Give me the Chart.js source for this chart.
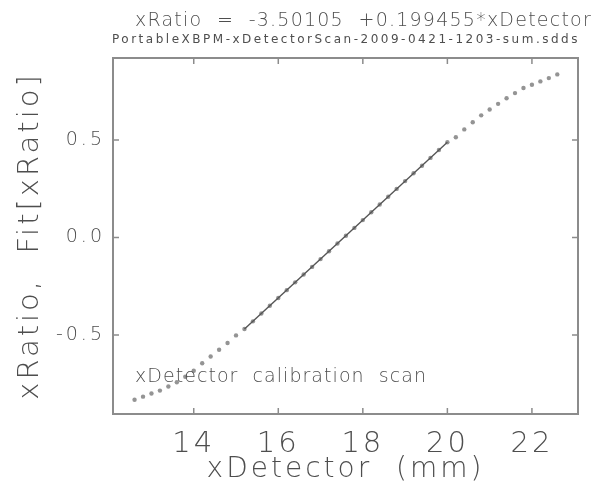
<!DOCTYPE html>
<html>
<head>
<meta charset="utf-8">
<script src="https://cdn.jsdelivr.net/npm/chart.js@4"></script>
<style>
  body { margin: 0; background: #fff; }
  canvas { display: block; }
</style>
</head>
<body>
<canvas id="scanChart" width="601" height="489"></canvas>
<script>
// scan data (mm, ratio)
const xDetector = [
  12.6, 12.8, 13.0, 13.2, 13.4, 13.6, 13.8, 14.0, 14.2, 14.4, 14.6, 14.8, 15.0,
  15.2, 15.4, 15.6, 15.8, 16.0, 16.2, 16.4, 16.6, 16.8, 17.0, 17.2, 17.4, 17.6,
  17.8, 18.0, 18.2, 18.4, 18.6, 18.8, 19.0, 19.2, 19.4, 19.6, 19.8, 20.0,
  20.2, 20.4, 20.6, 20.8, 21.0, 21.2, 21.4, 21.6, 21.8, 22.0, 22.2, 22.4, 22.6
];
const xRatio = [
  -0.832, -0.816, -0.800, -0.785, -0.764, -0.742, -0.714, -0.683, -0.645, -0.610, -0.576, -0.541, -0.502,
  -0.469, -0.430, -0.390, -0.350, -0.310, -0.270, -0.230, -0.190, -0.151, -0.111, -0.071, -0.031, 0.009,
  0.049, 0.089, 0.129, 0.169, 0.209, 0.249, 0.289, 0.329, 0.368, 0.408, 0.448, 0.488,
  0.514, 0.554, 0.591, 0.626, 0.656, 0.685, 0.714, 0.740, 0.766, 0.783, 0.800, 0.817, 0.836
];
// fitted line over the linear part
const fitX = [15.2, 20.0];
const fitY = [-0.469, 0.488];

const xTicks = [14, 16, 18, 20, 22];
const yTicks = [-0.5, 0.0, 0.5];

const titleText = "xRatio  =  -3.50105  +0.199455*xDetector";
const subtitleText = "PortableXBPM-xDetectorScan-2009-0421-1203-sum.sdds";
const noteText = "xDetector  calibration  scan";

const INK = "#4e4e4e";
const FRAME = "#8c8c8c";
const FONT = "'DejaVu Sans', sans-serif";
const WEIGHT = 200;

function spacedText(ctx, text, x, y, size, width, weight) {
  ctx.save();
  ctx.font = weight + " " + size + "px " + FONT;
  ctx.letterSpacing = "0px";
  const w = ctx.measureText(text).width;
  ctx.letterSpacing = ((width - w) / text.length) + "px";
  ctx.fillStyle = INK;
  ctx.textAlign = "left";
  ctx.textBaseline = "alphabetic";
  ctx.fillText(text, x, y);
  ctx.restore();
}

const sddsLook = {
  id: "sddsLook",
  beforeUpdate(chart) { chart.ctx.letterSpacing = "3px"; },
  beforeDraw(chart) { chart.ctx.letterSpacing = "3px"; },
  afterDatasetsDraw(chart) {
    const { ctx, chartArea: a } = chart;
    const xs = chart.scales.x, ys = chart.scales.y;
    ctx.save();
    ctx.strokeStyle = FRAME;
    ctx.lineWidth = 2;
    ctx.strokeRect(a.left, a.top, a.right - a.left, a.bottom - a.top);
    ctx.lineWidth = 1.5;
    ctx.beginPath();
    xTicks.forEach(v => {
      const px = xs.getPixelForValue(v);
      ctx.moveTo(px, a.bottom); ctx.lineTo(px, a.bottom - 6);
      ctx.moveTo(px, a.top); ctx.lineTo(px, a.top + 6);
    });
    yTicks.forEach(v => {
      const py = ys.getPixelForValue(v);
      ctx.moveTo(a.left, py); ctx.lineTo(a.left + 6, py);
      ctx.moveTo(a.right, py); ctx.lineTo(a.right - 6, py);
    });
    ctx.stroke();
    ctx.restore();

    spacedText(ctx, titleText, 135, 26, 19, 457, WEIGHT);
    spacedText(ctx, subtitleText, 112, 43, 12, 468, 400);
    spacedText(ctx, noteText, 135, 382, 19, 292, WEIGHT);
  }
};

new Chart(document.getElementById("scanChart").getContext("2d"), {
  type: "scatter",
  data: {
    datasets: [
      {
        label: "xRatio",
        data: xDetector.map((x, i) => ({ x, y: xRatio[i] })),
        pointStyle: "circle",
        pointRadius: 2.2,
        pointBackgroundColor: "#949494",
        pointBorderWidth: 0,
        showLine: false,
        order: 2
      },
      {
        label: "Fit[xRatio]",
        data: fitX.map((x, i) => ({ x, y: fitY[i] })),
        showLine: true,
        borderColor: "#555555",
        borderWidth: 1.4,
        pointRadius: 0,
        order: 1
      }
    ]
  },
  options: {
    responsive: false,
    animation: false,
    layout: { padding: { top: 58, right: 23, left: 0, bottom: 0 } },
    plugins: {
      legend: { display: false },
      tooltip: { enabled: false }
    },
    scales: {
      x: {
        type: "linear",
        min: 12.09,
        max: 23.09,
        afterFit: s => { s.height = 75; },
        grid: { display: false },
        border: { display: false },
        ticks: {
          stepSize: 2,
          includeBounds: false,
          padding: 5,
          color: INK,
          font: { family: FONT, size: 29, weight: WEIGHT },
          callback: v => String(v)
        },
        title: {
          display: true,
          text: "xDetector  (mm)",
          color: INK,
          font: { family: FONT, size: 28, weight: WEIGHT },
          padding: { top: 0, bottom: 2 }
        }
      },
      y: {
        type: "linear",
        min: -0.905,
        max: 0.92,
        afterFit: s => { s.width = 113; },
        grid: { display: false },
        border: { display: false },
        ticks: {
          stepSize: 0.5,
          includeBounds: false,
          padding: 0,
          color: INK,
          font: { family: FONT, size: 19, weight: WEIGHT },
          callback: v => v.toFixed(1)
        },
        title: {
          display: true,
          text: "xRatio,  Fit[xRatio]",
          color: INK,
          font: { family: FONT, size: 29, weight: WEIGHT },
          padding: { top: 13, bottom: 0 }
        }
      }
    }
  },
  plugins: [sddsLook]
});
</script>
</body>
</html>
